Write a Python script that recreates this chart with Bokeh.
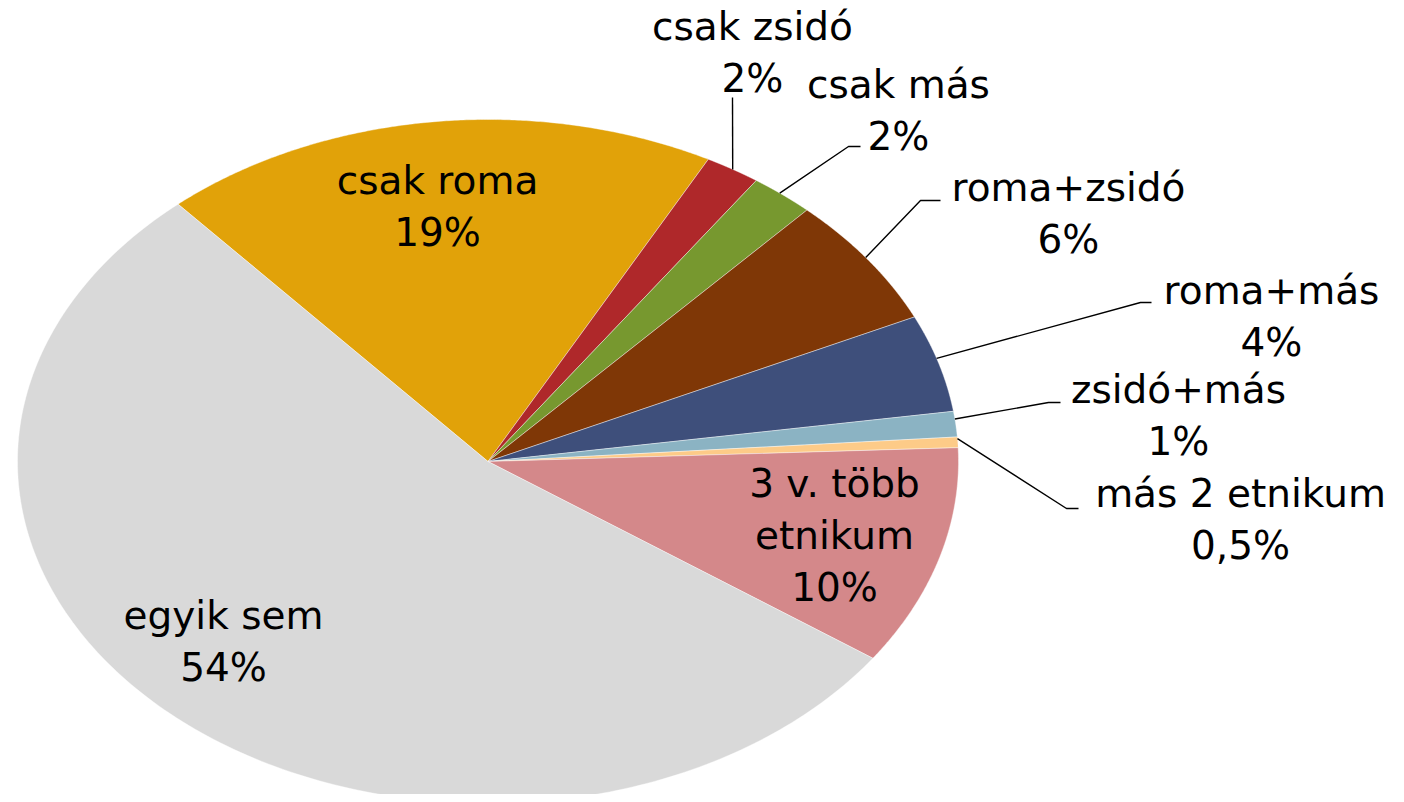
import numpy as np
from bokeh.plotting import figure
from bokeh.models import Range1d, ColumnDataSource
from bokeh.core.properties import value
from bokeh.embed import file_html
from bokeh.resources import INLINE

# ---- data ----
categories = ["csak roma", "csak zsidó", "csak más", "roma+zsidó", "roma+más",
              "zsidó+más", "más 2 etnikum", "3 v. több\netnikum", "egyik sem"]
shares = [19.2, 1.9, 2.2, 6.2, 4.6, 1.2, 0.5, 10.4, 53.8]
pct_labels = ["19%", "2%", "2%", "6%", "4%", "1%", "0,5%", "10%", "54%"]

# ---- styles / layout ----
colors = ["#E1A209", "#AF282A", "#77982F", "#7F3706", "#3E4F7B",
          "#8BB3C3", "#FDCB88", "#D4888A", "#D9D9D9"]
CX, CY, RX, RY = 487.5, 461.0, 470.5, 342.0
START_DEG = -41.2  # clockwise from 12 o'clock

# label block centres (screen px)
label_pos = [(437, 206), (752, 52), (898, 110), (1068, 213), (1271, 316),
             (1178, 415), (1240, 519), (834, 535), (223, 641)]
# leader lines: label end and elbow per outside label; end point on slice edge
leaders = {1: [(732, 97), (732, 97)],
           2: [(860, 146), (848, 146)],
           3: [(940, 200), (920, 200)],
           4: [(1151, 302), (1140, 302)],
           5: [(1060, 402), (1048, 402)],
           6: [(1078, 508), (1066, 508)]}
leader_frac = {1: 0.5, 2: 0.45, 3: 0.48, 4: 0.45, 5: 0.3, 6: 0.15}

W, H = 1396, 794
p = figure(width=W, height=H, output_backend="svg", toolbar_location=None,
           x_range=Range1d(0, W), y_range=Range1d(H, 0),
           min_border=0, outline_line_color=None)
p.axis.visible = False
p.grid.visible = False
p.background_fill_color = "white"
p.border_fill_color = "white"

vals = np.array(shares, dtype=float)
fr = vals / vals.sum()
edges = START_DEG + 360.0 * np.concatenate([[0.0], np.cumsum(fr)])

xs, ys = [], []
for i in range(len(vals)):
    th = np.radians(np.linspace(edges[i], edges[i + 1], 200))
    px = np.concatenate([[CX], CX + RX * np.sin(th)])
    py = np.concatenate([[CY], CY - RY * np.cos(th)])
    xs.append(list(px))
    ys.append(list(py))

src = ColumnDataSource(dict(xs=xs, ys=ys, color=colors, cat=categories))
p.patches("xs", "ys", source=src, fill_color="color", line_color="white",
          line_width=0.8, line_alpha=0.5)

# leader lines
for i, pts in leaders.items():
    th = np.radians(edges[i] + leader_frac[i] * (edges[i + 1] - edges[i]))
    ex, ey = CX + RX * np.sin(th), CY - RY * np.cos(th)
    lx = [pts[0][0], pts[1][0], ex]
    ly = [pts[0][1], pts[1][1], ey]
    p.line(lx, ly, line_color="black", line_width=1.4)

texts = [c + "\n" + l for c, l in zip(categories, pct_labels)]
tsrc = ColumnDataSource(dict(x=[a for a, b in label_pos], y=[b for a, b in label_pos], t=texts))
p.text("x", "y", text="t", source=tsrc, text_align="center", text_baseline="middle",
       text_font=value("DejaVu Sans"), text_font_size="39px", text_color="black",
       text_line_height=1.15)

open("out.html", "w").write(file_html(p, INLINE))
